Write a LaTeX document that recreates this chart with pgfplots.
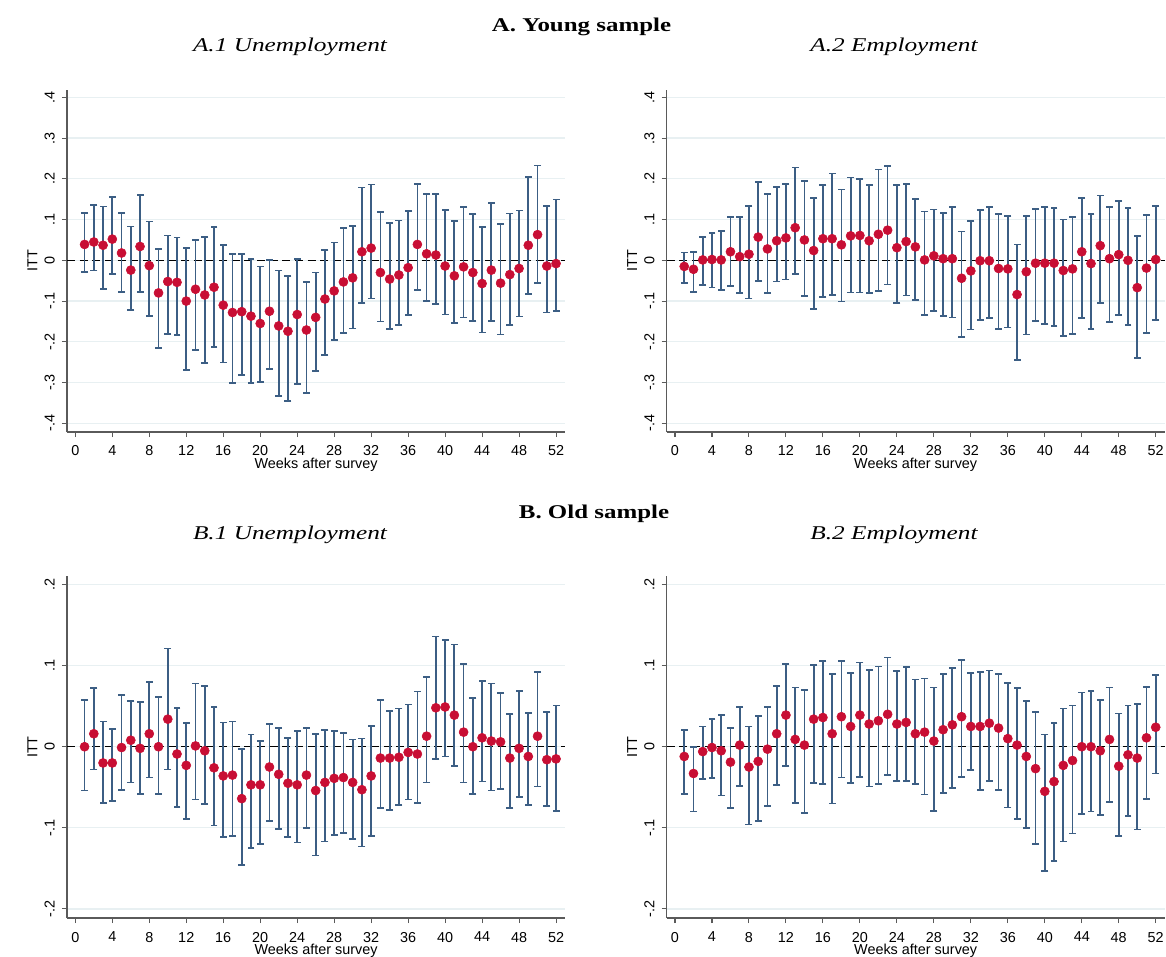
\documentclass[border=0pt]{standalone}
\usepackage{graphicx}
\usepackage{fontspec}
\setmainfont{Liberation Serif}
\setsansfont{Liberation Sans}
\usepackage{pgfplots}
\usepackage{pgfplotstable}
\pgfplotsset{compat=1.18}

\definecolor{barc}{RGB}{60,94,132}
\definecolor{dotc}{RGB}{200,14,52}
\definecolor{gridc}{RGB}{232,240,242}
\definecolor{axisc}{RGB}{90,90,90}

\newcommand\axisfont{\sffamily\fontsize{10.8}{12}\selectfont}
\newcommand\titlefont{\fontsize{14.6}{16}\selectfont}

\pgfplotstableread{
w est lo hi
1 0.039 -0.028 0.116
2 0.045 -0.025 0.135
3 0.037 -0.071 0.132
4 0.052 -0.033 0.156
5 0.018 -0.077 0.117
6 -0.024 -0.122 0.083
7 0.034 -0.077 0.160
8 -0.013 -0.136 0.095
9 -0.080 -0.215 0.027
10 -0.052 -0.181 0.061
11 -0.054 -0.183 0.056
12 -0.100 -0.269 0.031
13 -0.071 -0.220 0.049
14 -0.085 -0.252 0.057
15 -0.066 -0.212 0.082
16 -0.110 -0.251 0.038
17 -0.128 -0.301 0.015
18 -0.126 -0.281 0.016
19 -0.137 -0.301 0.004
20 -0.155 -0.299 -0.015
21 -0.125 -0.267 0.000
22 -0.161 -0.333 -0.025
23 -0.174 -0.345 -0.039
24 -0.133 -0.303 0.003
25 -0.171 -0.326 -0.053
26 -0.140 -0.272 -0.030
27 -0.095 -0.233 0.026
28 -0.075 -0.196 0.044
29 -0.053 -0.179 0.079
30 -0.043 -0.167 0.084
31 0.021 -0.105 0.179
32 0.030 -0.094 0.186
33 -0.030 -0.150 0.119
34 -0.046 -0.169 0.091
35 -0.036 -0.159 0.098
36 -0.018 -0.135 0.121
37 0.039 -0.073 0.188
38 0.016 -0.099 0.163
39 0.013 -0.107 0.163
40 -0.014 -0.133 0.123
41 -0.038 -0.154 0.097
42 -0.016 -0.140 0.130
43 -0.030 -0.149 0.113
44 -0.057 -0.177 0.082
45 -0.024 -0.148 0.141
46 -0.056 -0.182 0.090
47 -0.035 -0.158 0.115
48 -0.020 -0.138 0.122
49 0.037 -0.083 0.204
50 0.063 -0.056 0.233
51 -0.014 -0.128 0.133
52 -0.008 -0.124 0.149
}\dataAa

\pgfplotstableread{
w est lo hi
1 -0.015 -0.055 0.019
2 -0.022 -0.078 0.020
3 0.001 -0.061 0.058
4 0.002 -0.067 0.067
5 0.001 -0.073 0.072
6 0.021 -0.063 0.106
7 0.009 -0.081 0.107
8 0.015 -0.094 0.134
9 0.057 -0.050 0.192
10 0.028 -0.081 0.163
11 0.048 -0.052 0.180
12 0.055 -0.047 0.187
13 0.080 -0.034 0.228
14 0.050 -0.087 0.195
15 0.024 -0.120 0.153
16 0.053 -0.090 0.184
17 0.053 -0.085 0.213
18 0.038 -0.101 0.174
19 0.060 -0.079 0.203
20 0.061 -0.079 0.200
21 0.048 -0.081 0.184
22 0.064 -0.075 0.223
23 0.074 -0.059 0.232
24 0.031 -0.104 0.185
25 0.046 -0.086 0.188
26 0.033 -0.098 0.150
27 0.001 -0.135 0.120
28 0.011 -0.125 0.125
29 0.004 -0.136 0.117
30 0.004 -0.140 0.130
31 -0.044 -0.189 0.071
32 -0.026 -0.170 0.097
33 -0.001 -0.147 0.123
34 -0.001 -0.142 0.131
35 -0.020 -0.168 0.114
36 -0.021 -0.165 0.108
37 -0.084 -0.245 0.039
38 -0.028 -0.182 0.108
39 -0.007 -0.148 0.126
40 -0.007 -0.157 0.130
41 -0.007 -0.162 0.128
42 -0.025 -0.186 0.100
43 -0.021 -0.181 0.107
44 0.021 -0.141 0.153
45 -0.008 -0.168 0.113
46 0.036 -0.105 0.159
47 0.004 -0.151 0.131
48 0.014 -0.134 0.146
49 0.000 -0.159 0.128
50 -0.067 -0.239 0.059
51 -0.019 -0.178 0.111
52 0.002 -0.147 0.134
}\dataAb

\pgfplotstableread{
w est lo hi
1 0.000 -0.054 0.058
2 0.016 -0.028 0.072
3 -0.020 -0.069 0.031
4 -0.020 -0.067 0.022
5 -0.001 -0.053 0.064
6 0.008 -0.044 0.056
7 -0.002 -0.058 0.055
8 0.016 -0.038 0.080
9 0.000 -0.058 0.061
10 0.034 -0.028 0.121
11 -0.009 -0.074 0.048
12 -0.023 -0.089 0.029
13 0.001 -0.065 0.078
14 -0.005 -0.071 0.075
15 -0.026 -0.097 0.049
16 -0.036 -0.111 0.030
17 -0.035 -0.110 0.031
18 -0.064 -0.146 -0.003
19 -0.047 -0.125 0.015
20 -0.047 -0.120 0.007
21 -0.025 -0.092 0.028
22 -0.034 -0.101 0.023
23 -0.045 -0.111 0.011
24 -0.047 -0.118 0.019
25 -0.035 -0.100 0.023
26 -0.054 -0.134 0.016
27 -0.044 -0.117 0.021
28 -0.039 -0.109 0.019
29 -0.038 -0.106 0.017
30 -0.044 -0.114 0.009
31 -0.053 -0.123 0.010
32 -0.036 -0.110 0.026
33 -0.014 -0.076 0.058
34 -0.014 -0.078 0.044
35 -0.013 -0.072 0.047
36 -0.007 -0.065 0.052
37 -0.009 -0.069 0.068
38 0.013 -0.044 0.086
39 0.048 -0.015 0.136
40 0.049 -0.012 0.132
41 0.039 -0.024 0.126
42 0.018 -0.044 0.102
43 0.000 -0.058 0.060
44 0.011 -0.043 0.081
45 0.007 -0.054 0.078
46 0.006 -0.052 0.066
47 -0.014 -0.076 0.040
48 -0.002 -0.062 0.069
49 -0.012 -0.072 0.042
50 0.013 -0.049 0.092
51 -0.016 -0.073 0.043
52 -0.015 -0.079 0.051
}\dataBa

\pgfplotstableread{
w est lo hi
1 -0.012 -0.058 0.021
2 -0.033 -0.080 0.000
3 -0.006 -0.040 0.025
4 -0.001 -0.039 0.034
5 -0.005 -0.060 0.039
6 -0.019 -0.076 0.023
7 0.002 -0.048 0.049
8 -0.025 -0.096 0.025
9 -0.018 -0.092 0.038
10 -0.003 -0.073 0.049
11 0.016 -0.047 0.075
12 0.039 -0.024 0.102
13 0.009 -0.069 0.073
14 0.002 -0.082 0.070
15 0.034 -0.045 0.101
16 0.036 -0.046 0.106
17 0.016 -0.070 0.090
18 0.037 -0.038 0.106
19 0.025 -0.045 0.091
20 0.039 -0.037 0.104
21 0.028 -0.049 0.095
22 0.032 -0.046 0.099
23 0.040 -0.035 0.110
24 0.028 -0.042 0.093
25 0.030 -0.042 0.098
26 0.016 -0.046 0.083
27 0.018 -0.059 0.084
28 0.007 -0.079 0.073
29 0.021 -0.057 0.090
30 0.027 -0.051 0.097
31 0.037 -0.037 0.107
32 0.025 -0.029 0.091
33 0.025 -0.053 0.092
34 0.029 -0.042 0.094
35 0.023 -0.053 0.090
36 0.010 -0.075 0.079
37 0.002 -0.089 0.072
38 -0.012 -0.100 0.056
39 -0.027 -0.120 0.043
40 -0.055 -0.153 0.015
41 -0.043 -0.141 0.029
42 -0.023 -0.117 0.047
43 -0.017 -0.107 0.051
44 0.000 -0.083 0.067
45 0.000 -0.080 0.069
46 -0.005 -0.084 0.058
47 0.009 -0.068 0.073
48 -0.024 -0.110 0.041
49 -0.010 -0.085 0.051
50 -0.014 -0.102 0.053
51 0.011 -0.064 0.074
52 0.024 -0.033 0.088
}\dataBb

\pgfplotsset{
  panel/.style={
    anchor=south west,
    scale only axis,
    width=373.5pt, height=256.5pt,
    xmin=-0.9, xmax=52.97,
    axis lines*=left,
    axis line style={-, draw=axisc, line width=0.8pt},
    tick align=outside,
    major tick length=3.75pt,
    tick style={draw=axisc, line width=0.8pt},
    xtick={0,4,...,52},
    xticklabels={0,4,8,12,16,20,24,28,32,36,40,44,48,52},
    tick label style={font=\axisfont, inner sep=0pt},
    /pgf/number format/assume math mode=true,
    xticklabel shift=6.5pt,
    yticklabel shift=5.25pt,
    xticklabel style={anchor=north},
    yticklabel style={rotate=90, anchor=south},
    ymajorgrids,
    grid style={draw=gridc, line width=1pt},
    xlabel={Weeks after survey},
    ylabel={ITT},
    label style={font=\axisfont, inner sep=0pt},
    xlabel style={at={(axis description cs:0.5,0)}, anchor=base, yshift=-27.3pt},
    ylabel style={at={(axis description cs:-0.0693,0.5)}, anchor=center},
    clip=false,
  },
  ya/.style={ymin=-0.4213, ymax=0.418, ytick={-0.4,-0.3,-0.2,-0.1,0,0.1,0.2,0.3,0.4},
    yticklabels={-.4,-.3,-.2,-.1,0,.1,.2,.3,.4}},
  yb/.style={ymin=-0.2112, ymax=0.2105, ytick={-0.2,-0.1,0,0.1,0.2},
    yticklabels={-.2,-.1,0,.1,.2}},
  zeroline/.style={black, line width=0.8pt, dash pattern=on 6pt off 3.5pt},
  bars/.style={only marks, mark=none, forget plot,
    error bars/.cd, y dir=both, y explicit, error mark=none,
    error bar style={draw=barc, line width=1.3pt, solid}},
  caps/.style={only marks, mark=-, mark size=2.6pt, forget plot, draw=barc,
    mark options={draw=barc, line width=1.3pt, solid}},
  dots/.style={only marks, mark=*, mark size=3.4pt, color=dotc, mark options={fill=dotc, draw=dotc}},
}

\newcommand\panelplots[1]{%
  \addplot[zeroline] coordinates {(-0.9,0) (52.97,0)};
  \addplot[bars] table[x=w, y=est,
    y error plus expr=\thisrow{hi}-\thisrow{est},
    y error minus expr=\thisrow{est}-\thisrow{lo}] {#1};
  \addplot[caps] table[x=w, y=hi] {#1};
  \addplot[caps] table[x=w, y=lo] {#1};
  \addplot[dots] table[x=w, y=est] {#1};
}

\begin{document}
\begin{tikzpicture}
\path[use as bounding box] (0,0) rectangle (874.5pt,-717pt);

\node[anchor=base, font=\titlefont\bfseries] at (436.1pt,-23.8pt) {\scalebox{1.28}[1]{A. Young sample}};
\node[anchor=base, font=\titlefont\itshape] at (217.5pt,-38.8pt) {\scalebox{1.3}[1]{A.1 Unemployment}};
\node[anchor=base, font=\titlefont\itshape] at (670.5pt,-38.8pt) {\scalebox{1.3}[1]{A.2 Employment}};
\node[anchor=base, font=\titlefont\bfseries] at (445.5pt,-389.2pt) {\scalebox{1.28}[1]{B. Old sample}};
\node[anchor=base, font=\titlefont\itshape] at (217.5pt,-404.5pt) {\scalebox{1.3}[1]{B.1 Unemployment}};
\node[anchor=base, font=\titlefont\itshape] at (670.5pt,-404.5pt) {\scalebox{1.3}[1]{B.2 Employment}};

\begin{axis}[panel, ya, at={(50.25pt,-324pt)}]
\panelplots{\dataAa}
\end{axis}

\begin{axis}[panel, ya, at={(500pt,-324pt)}]
\panelplots{\dataAb}
\end{axis}

\begin{axis}[panel, yb, at={(50.25pt,-688.5pt)}]
\panelplots{\dataBa}
\end{axis}

\begin{axis}[panel, yb, at={(500pt,-688.5pt)}]
\panelplots{\dataBb}
\end{axis}

\end{tikzpicture}
\end{document}
